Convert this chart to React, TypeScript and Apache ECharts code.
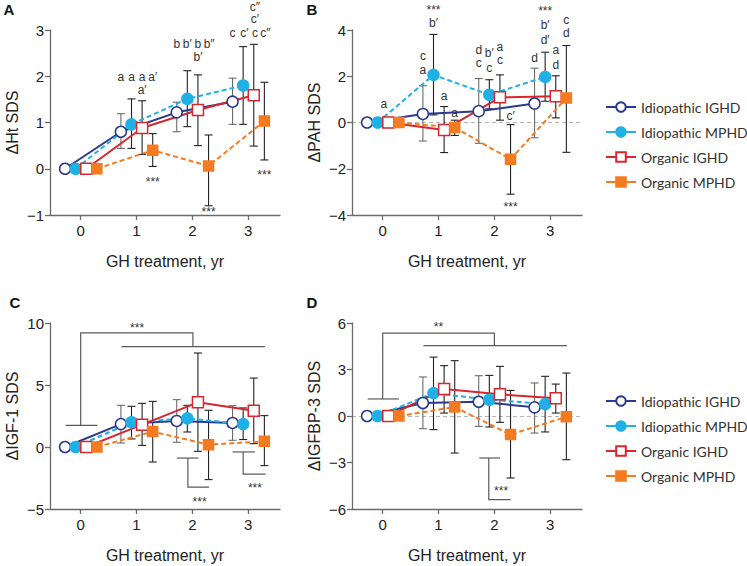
import React, { useEffect, useRef } from "react";
import * as echarts from "echarts";

// ---------- data ----------
const years = [0, 1, 2, 3];
const groupNames = ["Idiopathic IGHD", "Idiopathic MPHD", "Organic IGHD", "Organic MPHD"];
const groupOffsets = [-0.28, -0.09, 0.1, 0.29];
const xTicks = [0, 1, 2, 3];

// Panel A: ΔHt SDS
const htMeans = [
  [0, 0.8, 1.22, 1.45],
  [0, 0.96, 1.51, 1.8],
  [0, 0.88, 1.27, 1.59],
  [0, 0.4, 0.06, 1.03],
];
const htLow = [
  [null, 0.44, 0.8, 0.96],
  [null, 0.44, 0.91, 0.96],
  [null, 0.31, 0.5, 0.49],
  [null, 0.05, -0.8, 0.19],
];
const htHigh = [
  [null, 1.19, 1.44, 1.96],
  [null, 1.51, 2.12, 2.64],
  [null, 1.47, 2.03, 2.69],
  [null, 0.76, 0.73, 1.87],
];
const htNotes: [number, number, string][] = [
  [0.72, 1.98, "a"], [0.91, 1.98, "a"], [1.1, 1.98, "a"], [1.29, 1.98, "a′"], [1.1, 1.7, "a′"],
  [1.72, 2.7, "b"], [1.91, 2.7, "b′"], [2.1, 2.7, "b"], [2.3, 2.7, "b″"], [2.1, 2.41, "b′"],
  [2.72, 2.93, "c"], [2.93, 2.93, "c′"], [3.12, 2.93, "c"], [3.31, 2.93, "c″"], [3.12, 3.23, "c′"], [3.12, 3.5, "c″"],
  [1.29, -0.23, "***"], [2.29, -0.86, "***"], [3.29, -0.07, "***"],
];

// Panel B: ΔPAH SDS
const pahMeans = [
  [0, 0.37, 0.49, 0.82],
  [0, 2.06, 1.2, 1.97],
  [0, -0.32, 1.09, 1.13],
  [0, -0.22, -1.59, 1.06],
];
const pahLow = [
  [null, -0.8, -0.9, -0.66],
  [null, 0.33, 0.59, 0.92],
  [null, -1.3, 0.1, 0.2],
  [null, -0.56, -3.1, -1.29],
];
const pahHigh = [
  [null, 1.59, 1.9, 2.35],
  [null, 3.81, 1.85, 3.04],
  [null, 0.69, 2.06, 2.02],
  [null, 0.1, -0.09, 3.33],
];
const pahNotes: [number, number, string][] = [
  [0.02, 0.82, "a"],
  [0.72, 2.86, "c"], [0.72, 2.29, "a"], [0.91, 4.29, "b′"], [0.91, 5.0, "***"], [1.1, 1.13, "a"], [1.29, 0.42, "a"],
  [1.72, 3.14, "d"], [1.72, 2.57, "c"], [1.91, 3.0, "b′"], [1.91, 2.35, "c"], [2.1, 3.28, "a"], [2.1, 2.71, "c"],
  [2.29, 0.27, "c′"], [2.29, -3.53, "***"],
  [2.72, 2.78, "d"], [2.91, 4.93, "***"], [2.91, 4.22, "b′"], [2.91, 3.57, "d′"], [3.1, 3.14, "a"], [3.1, 2.49, "d"],
  [3.29, 4.43, "c"], [3.29, 3.86, "d"],
];

// Panel C: ΔIGF-1 SDS
const igfMeans = [
  [0, 1.85, 2.1, 1.94],
  [0, 2.0, 2.31, 1.85],
  [0, 1.8, 3.6, 2.93],
  [0, 1.24, 0.19, 0.46],
];
const igfLow = [
  [null, 0.32, 0.38, 0.54],
  [null, 0.65, 1.21, 0.6],
  [null, 0.13, -0.35, 0.27],
  [null, -1.21, -2.63, -1.5],
];
const igfHigh = [
  [null, 3.36, 3.82, 3.33],
  [null, 3.28, 3.36, 3.15],
  [null, 3.52, 7.58, 5.56],
  [null, 3.68, 2.96, 2.53],
];
const igfNotes: [number, number, string][] = [
  [1.01, 9.87, "***"], [2.13, -4.17, "***"], [3.12, -3.04, "***"],
];
const igfBrackets: number[][][] = [
  [[-0.27, 1.75], [0.3, 1.75]],
  [[0, 1.75], [0, 9.2], [2.01, 9.2], [2.01, 8.1]],
  [[0.73, 8.1], [3.3, 8.1]],
  [[1.72, -0.89], [2.11, -0.89]],
  [[1.92, -0.89], [1.92, -3.23], [2.3, -3.23]],
  [[2.72, -0.4], [3.12, -0.4]],
  [[2.91, -0.4], [2.91, -2.18], [3.31, -2.18]],
];

// Panel D: ΔIGFBP-3 SDS
const bp3Means = [
  [0, 0.84, 0.92, 0.56],
  [0, 1.48, 1.05, 0.77],
  [0, 1.74, 1.4, 1.14],
  [0, 0.58, -1.2, -0.05],
];
const bp3Low = [
  [null, -0.82, -0.67, -1.1],
  [null, -0.88, -0.71, -1.03],
  [null, 0.19, -0.41, 0.19],
  [null, -2.39, -4.0, -2.82],
];
const bp3High = [
  [null, 2.52, 2.6, 2.13],
  [null, 3.8, 2.62, 2.56],
  [null, 3.25, 3.2, 2.06],
  [null, 3.57, 1.65, 2.77],
];
const bp3Notes: [number, number, string][] = [
  [1.0, 5.92, "**"], [2.12, -4.65, "***"],
];
const bp3Brackets: number[][][] = [
  [[-0.27, 1.1], [0.29, 1.1]],
  [[0, 1.1], [0, 5.35], [2.0, 5.35], [2.0, 4.54]],
  [[0.73, 4.54], [3.3, 4.54]],
  [[1.73, -2.71], [2.1, -2.71]],
  [[1.9, -2.71], [1.9, -5.4], [2.29, -5.4]],
];

// ---------- styles ----------
const AX_FONT = "Liberation Sans";
const groupStyles = [
  { color: "#2b3990", dash: "solid", symbol: "circle", fill: "#ffffff", size: 11 },
  { color: "#1fb1e6", dash: [5, 3], symbol: "circle", fill: "#1fb1e6", size: 11 },
  { color: "#d7262e", dash: "solid", symbol: "rect", fill: "#ffffff", size: 11 },
  { color: "#f47b20", dash: [5, 3], symbol: "rect", fill: "#f47b20", size: 10 },
];

const panels = [
  { letter: "A", lx: 9, ly: 9, means: htMeans, low: htLow, high: htHigh, notes: htNotes, brackets: [] as number[][][],
    yMin: -1, yMax: 3, yInt: 1, yName: "ΔHt SDS", left: 50, top: 30, height: 185, zero: false },
  { letter: "B", lx: 312, ly: 9, means: pahMeans, low: pahLow, high: pahHigh, notes: pahNotes, brackets: [] as number[][][],
    yMin: -4, yMax: 4, yInt: 2, yName: "ΔPAH SDS", left: 352, top: 30, height: 185, zero: true },
  { letter: "C", lx: 15, ly: 302, means: igfMeans, low: igfLow, high: igfHigh, notes: igfNotes, brackets: igfBrackets,
    yMin: -5, yMax: 10, yInt: 5, yName: "ΔIGF-1 SDS", left: 50, top: 323, height: 186, zero: false },
  { letter: "D", lx: 312, ly: 302, means: bp3Means, low: bp3Low, high: bp3High, notes: bp3Notes, brackets: bp3Brackets,
    yMin: -6, yMax: 6, yInt: 3, yName: "ΔIGFBP-3 SDS", left: 352, top: 323, height: 186, zero: true },
];

const minus = (v: number) => String(v).replace("-", "\u2212");

function buildOption() {
  const grid: any[] = [];
  const xAxis: any[] = [];
  const yAxis: any[] = [];
  const series: any[] = [];
  const graphic: any[] = [];

  panels.forEach((p, gi) => {
    grid.push({ left: p.left, top: p.top, width: 230, height: p.height });
    xAxis.push({
      type: "value", gridIndex: gi, min: -0.55, max: 3.57,
      name: "GH treatment, yr", nameLocation: "middle", nameGap: 38,
      nameTextStyle: { fontFamily: AX_FONT, fontSize: 16, color: "#222" },
      axisLine: { show: true, onZero: false, lineStyle: { color: "#6a6a6a", width: 1.3 } },
      axisTick: { show: true, length: 5, customValues: xTicks, lineStyle: { color: "#6a6a6a", width: 1.3 } },
      axisLabel: { customValues: xTicks, fontFamily: AX_FONT, fontSize: 15, color: "#222", margin: 8 },
      splitLine: { show: false },
    });
    yAxis.push({
      type: "value", gridIndex: gi, min: p.yMin, max: p.yMax, interval: p.yInt,
      name: p.yName, nameLocation: "middle", nameGap: 30,
      nameTextStyle: { fontFamily: AX_FONT, fontSize: 16, color: "#222" },
      axisLine: { show: true, onZero: false, lineStyle: { color: "#6a6a6a", width: 1.3 } },
      axisTick: { show: true, length: 5, lineStyle: { color: "#6a6a6a", width: 1.3 } },
      axisLabel: { fontFamily: AX_FONT, fontSize: 15, color: "#222", margin: 6, formatter: (v: number) => minus(v) },
      splitLine: { show: false },
    });

    // error bars
    const errData: number[][] = [];
    p.means.forEach((_, k) => {
      years.forEach((yr, i) => {
        const lo = p.low[k][i];
        const hi = p.high[k][i];
        if (lo !== null && hi !== null) errData.push([yr + groupOffsets[k], lo as number, hi as number, k]);
      });
    });
    series.push({
      type: "custom", xAxisIndex: gi, yAxisIndex: gi, clip: false, z: 1, silent: true,
      encode: { x: 0, y: [1, 2] },
      data: errData,
      renderItem: (params: any, api: any) => {
        const x = api.value(0);
        const a = api.coord([x, api.value(1)]);
        const b = api.coord([x, api.value(2)]);
        const k = api.value(3);
        const stroke = k === 0 ? "#6b6b6b" : "#222";
        const w = 4;
        const st = { stroke, lineWidth: 1.1 };
        return {
          type: "group",
          children: [
            { type: "line", shape: { x1: a[0], y1: a[1], x2: b[0], y2: b[1] }, style: st },
            { type: "line", shape: { x1: a[0] - w, y1: a[1], x2: a[0] + w, y2: a[1] }, style: st },
            { type: "line", shape: { x1: b[0] - w, y1: b[1], x2: b[0] + w, y2: b[1] }, style: st },
          ],
        };
      },
    });

    // lines
    p.means.forEach((vals, k) => {
      const s = groupStyles[k];
      const ser: any = {
        name: groupNames[k], type: "line", xAxisIndex: gi, yAxisIndex: gi, z: 3,
        data: years.map((yr, i) => [yr + groupOffsets[k], vals[i]]),
        symbol: s.symbol, symbolSize: s.size, showSymbol: true,
        lineStyle: { color: s.color, width: 2, type: s.dash },
        itemStyle: { color: s.fill, borderColor: s.color, borderWidth: 1.5 },
        emphasis: { disabled: true },
        animation: false,
      };
      if (k === 0 && p.zero) {
        ser.markLine = {
          silent: true, symbol: ["none", "none"], label: { show: false }, z: 0,
          lineStyle: { color: "#b5b5b5", type: [4, 3], width: 1 },
          data: [{ yAxis: 0 }],
        };
      }
      series.push(ser);
    });

    // brackets
    if (p.brackets.length) {
      const br = p.brackets;
      series.push({
        type: "custom", xAxisIndex: gi, yAxisIndex: gi, clip: false, z: 2, silent: true,
        encode: { x: 0, y: 1 },
        data: br.map((b) => b[0]),
        renderItem: (params: any, api: any) => {
          const pts = br[params.dataIndex].map((pt) => api.coord(pt));
          return { type: "polyline", shape: { points: pts }, style: { stroke: "#5a5a5a", lineWidth: 1.2, fill: null } };
        },
      });
    }

    // notes
    const notes = p.notes;
    series.push({
      type: "custom", xAxisIndex: gi, yAxisIndex: gi, clip: false, z: 4, silent: true,
      encode: { x: 0, y: 1 },
      data: notes.map((n) => [n[0], n[1]]),
      renderItem: (params: any, api: any) => {
        const n = notes[params.dataIndex];
        const pt = api.coord([n[0], n[1]]);
        const star = n[2].indexOf("*") >= 0;
        return {
          type: "text", x: pt[0], y: pt[1] + (star ? 3 : 0),
          style: {
            text: n[2], fill: "#333",
            font: `12px ${AX_FONT}`,
            align: "center", verticalAlign: "middle",
          },
        };
      },
    });

    graphic.push({
      type: "text", x: p.lx, y: p.ly,
      style: { text: p.letter, font: `bold 15px ${AX_FONT}`, fill: "#111", align: "center", verticalAlign: "middle" },
    });
  });

  const legendBase = {
    data: groupNames, orient: "vertical", left: 600, itemWidth: 30, itemHeight: 12, itemGap: 11,
    selectedMode: false,
    textStyle: { fontFamily: "Lato", fontSize: 14, color: "#333" },
    lineStyle: { type: "solid", width: 2 },
  };

  return {
    animation: false,
    backgroundColor: "#ffffff",
    grid, xAxis, yAxis, series, graphic,
    legend: [
      { ...legendBase, top: 95 },
      { ...legendBase, top: 389 },
    ],
  };
}

export default function App() {
  const ref = useRef<HTMLDivElement>(null);
  useEffect(() => {
    if (!ref.current) return;
    const chart = echarts.init(ref.current, null, { renderer: "svg" });
    chart.setOption(buildOption() as any);
    return () => chart.dispose();
  }, []);
  return (
    <div
      ref={ref}
      style={{ position: "fixed", left: 0, top: 0, width: 747, height: 566, background: "#fff" }}
    />
  );
}
